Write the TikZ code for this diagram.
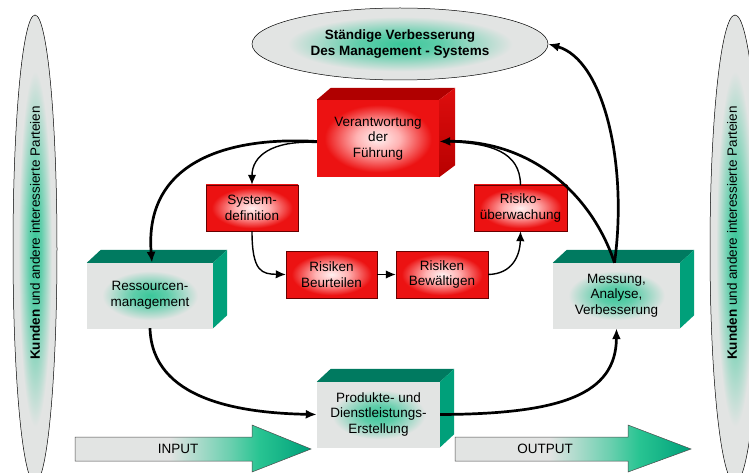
\documentclass[tikz,border=0pt]{standalone}
\usepackage{fontspec}
\setmainfont{Liberation Sans}
\usetikzlibrary{calc,arrows.meta,shapes.geometric}

\definecolor{tealtop}{RGB}{0,122,96}
\definecolor{tealside}{RGB}{0,160,122}
\definecolor{glowgreen}{RGB}{40,196,146}
\definecolor{palegray}{RGB}{226,228,227}
\definecolor{boxred}{RGB}{236,18,18}
\definecolor{redtop}{RGB}{176,0,0}
\definecolor{redside}{RGB}{222,14,14}

% soft green spot on a pale grey face
\pgfdeclareradialshading{greenglow}{\pgfpointorigin}{color(0bp)=(glowgreen!90!palegray); color(7bp)=(glowgreen!70!palegray); color(19bp)=(palegray); color(50bp)=(palegray)}
% pale centre fading to red at the rim
\pgfdeclareradialshading{redglow}{\pgfpointorigin}{color(0bp)=(red!6!white); color(9bp)=(red!30!white); color(22bp)=(boxred); color(50bp)=(boxred)}
% grey shaft turning green towards the head
\pgfdeclarehorizontalshading{arrowfill}{100bp}{color(0bp)=(palegray); color(25bp)=(palegray); color(45bp)=(palegray); color(58bp)=(glowgreen!65!palegray); color(64bp)=(glowgreen); color(75bp)=(tealside); color(100bp)=(tealside)}

\begin{document}
\begin{tikzpicture}[x=1pt,y=-1pt,
  boxfont/.style={font=\fontsize{13.5}{15.5}\selectfont},
  redflat/.style={rectangle, draw=red!40!black, line width=0.4pt, shading=redglow,
    align=center, inner sep=0pt, minimum width=92pt, minimum height=46pt, boxfont},
  redblock/.style={rectangle, shading=redglow, align=center, inner sep=0pt, boxfont},
  greenblock/.style={rectangle, shading=greenglow, align=center, inner sep=0pt,
    minimum height=65pt, boxfont},
  oval/.style={ellipse, draw=black, line width=0.5pt, shading=greenglow, inner sep=0pt},
  bigarrow/.style={draw=black!70, line width=0.5pt, shading=arrowfill},
  link/.style={draw=black, line width=2.7pt, -{Latex[length=11pt,width=9pt]}},
  thinlink/.style={draw=black, line width=1.4pt, -{Latex[length=10pt,width=8.5pt]}},
  plainlink/.style={draw=black, line width=1.4pt}
]
\useasboundingbox (0,0) rectangle (749,473);
\clip (0,0) rectangle (749,473);
\fill[white] (0,0) rectangle (749,473);

% customers and interested parties, both sides
\node[oval, minimum width=44pt, minimum height=468pt] (leftoval) at (35,249) {};
\node[oval, minimum width=50pt, minimum height=468pt] (rightoval) at (735,249) {};
\node[rotate=90, font=\fontsize{13.5}{16}\selectfont] (lefttext) at (35,233)
  {\textbf{Kunden} und andere interessierte Parteien};
\node[rotate=90, font=\fontsize{13.5}{16}\selectfont] (righttext) at (732,233)
  {\textbf{Kunden} und andere interessierte Parteien};

% continual improvement
\node[oval, minimum width=296pt, minimum height=72pt, align=center,
  font=\fontsize{13.5}{16.5}\selectfont\bfseries] (topoval) at (400,44)
  {Ständige Verbesserung\\Des Management - Systems};

% management responsibility (red block)
\node[redblock, minimum width=122pt, minimum height=77pt] (fuehrung) at (378,138.5)
  {Verantwortung\\der\\Führung};
\fill[redtop] (fuehrung.north west) -- ++(14,-12) -- ($(fuehrung.north east)+(16,-12)$)
  -- (fuehrung.north east) -- cycle;
\shade[top color=redside, bottom color=red!72!black] (fuehrung.north east) -- ++(16,-12)
  -- ($(fuehrung.south east)+(16,-12)$) -- (fuehrung.south east) -- cycle;

% risk cycle
\node[redflat] (system) at (252,208) {System-\\definition};
\node[redflat, minimum width=93pt] (risiko) at (520.5,208) {Risiko-\\überwachung};
\node[redflat, minimum width=91pt, minimum height=47pt] (beurteilen) at (331.5,274.5)
  {Risiken\\Beurteilen};
\node[redflat, minimum height=47pt] (bewaeltigen) at (442,274.5) {Risiken\\Bewältigen};

% green blocks
\node[greenblock, minimum width=126pt] (ressourcen) at (150,295.5) {Ressourcen-\\management};
\node[greenblock, minimum width=127pt] (messung) at (616.5,295.5)
  {Messung,\\Analyse,\\Verbesserung};
\node[greenblock, minimum width=123pt] (produkte) at (378.5,414.5)
  {Produkte- und\\Dienstleistungs-\\Erstellung};
\foreach \b in {ressourcen,messung,produkte}{
  \fill[tealtop] (\b.north west) -- ++(14,-13) -- ($(\b.north east)+(14,-13)$)
    -- (\b.north east) -- cycle;
  \fill[tealside] (\b.north east) -- ++(14,-13) -- ($(\b.south east)+(14,-13)$)
    -- (\b.south east) -- cycle;
}

% input and output arrows
\path[bigarrow] (75,437) -- (252,437) -- (252,425) -- (311,449) -- (252,472)
  -- (252,461) -- (75,461) -- cycle;
\path[bigarrow] (455,437) -- (628,437) -- (628,425) -- (691,449) -- (628,472)
  -- (628,461) -- (455,461) -- cycle;
\node[boxfont] (input) at (178,449) {INPUT};
\node[boxfont] (output) at (545,449) {OUTPUT};

% connectors
\draw[link] ($(fuehrung.west)+(0,3)$) .. controls (222,136) and (144,165)
  .. ($(ressourcen.north)+(2,0)$);
\draw[thinlink] ($(fuehrung.west)+(0,4)$) .. controls (272,140) and (252,156) .. (system.north);
\draw[thinlink] (system.south) .. controls (252,272) and (262,274) .. (beurteilen.west);
\draw[thinlink] (beurteilen.east) -- (bewaeltigen.west);
\draw[thinlink] (bewaeltigen.east) .. controls (512,274) and (520,256) .. (risiko.south);
\draw[plainlink] (risiko.north) .. controls (520,152) and (492,143) .. ($(fuehrung.east)+(6,3)$);
\draw[link] ($(messung.north)+(-2,0)$) .. controls (592,195) and (532,140)
  .. ($(fuehrung.east)+(0,3)$);
\draw[link] ($(messung.north)+(-2,0)$) .. controls (628,165) and (604,60) .. (topoval.east);
\draw[link] (ressourcen.south) .. controls (152,400) and (240,413) .. (produkte.west);
\draw[link] (produkte.east) .. controls (560,414) and (616,395) .. (messung.south);
\end{tikzpicture}
\end{document}
